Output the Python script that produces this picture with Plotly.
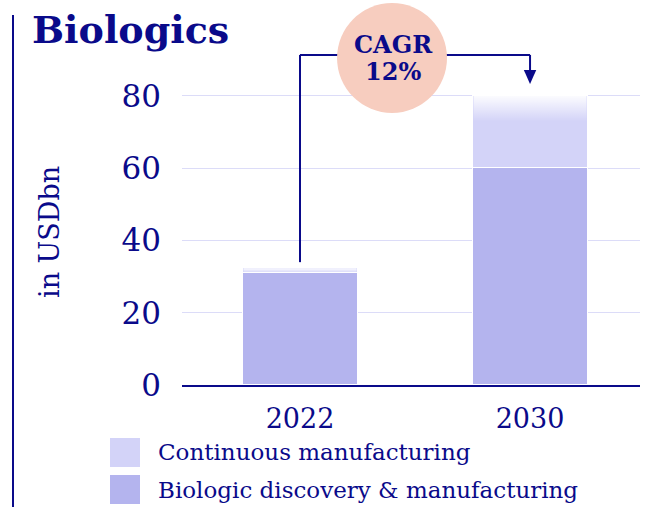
import plotly.graph_objects as go

# ---- data ----
years = ["2022", "2030"]
discovery = [31.0, 60.0]          # Biologic discovery & manufacturing (USDbn)
continuous = [1.3, 20.0]          # Continuous manufacturing (USDbn)
y_ticks = [0, 20, 40, 60, 80]
cagr_lines = ["CAGR", "12%"]
series_names = ["Continuous manufacturing", "Biologic discovery & manufacturing"]

NAVY = "#0a0a8a"
C_DISC = "#b4b4ee"
C_CONT = "#d3d3f8"
GRID = "#dcdcf8"
SALMON = "#f7cdbf"
FONT = "DejaVu Serif"

W, H = 656, 507
L, R, T, B = 182, 16, 2, 122
PW, PH = W - L - R, H - T - B

def px(x):  # pixel x -> paper
    return (x - L) / PW

def py(y):  # pixel y -> paper
    return (H - B - y) / PH

xs = list(range(len(years)))
totals = [d + c for d, c in zip(discovery, continuous)]
bar_w = 0.5

fig = go.Figure()
fig.add_trace(go.Bar(x=xs, y=discovery, width=bar_w, marker=dict(color=C_DISC, line=dict(color="white", width=1)),
                     name=series_names[1], showlegend=False, hoverinfo="skip"))
fig.add_trace(go.Bar(x=xs, y=continuous, width=bar_w, marker=dict(color=C_CONT, line=dict(color="white", width=1)),
                     name=series_names[0], showlegend=False, hoverinfo="skip"))

# fade at the top of the continuous segments
fade = 7.0
for i, (d, c) in enumerate(zip(discovery, continuous)):
    h = min(fade, c)
    top = d + c
    x0, x1 = i - bar_w / 2 + 0.004, i + bar_w / 2 - 0.004
    fig.add_trace(go.Scatter(
        x=[x0, x1, x1, x0, x0], y=[top - h, top - h, top, top, top - h],
        mode="lines", line=dict(width=0), fill="toself",
        fillgradient=dict(type="vertical",
                          colorscale=[[0, "rgba(255,255,255,0)"], [1, "rgba(255,255,255,0.92)"]]),
        showlegend=False, hoverinfo="skip"))

conn_y = 91.35
cx, cy = 0.40, 90.5
shapes = [
    dict(type="line", xref="x", yref="y", x0=0, x1=0, y0=totals[0] + 1.7, y1=conn_y, line=dict(color=NAVY, width=2)),
    dict(type="line", xref="x", yref="y", x0=0, x1=1, y0=conn_y, y1=conn_y, line=dict(color=NAVY, width=2)),
    dict(type="line", xref="x", yref="y", x0=1, x1=1, y0=conn_y, y1=totals[1] + 6, line=dict(color=NAVY, width=2)),
    dict(type="path", xref="x", yref="y",
         path=f"M {1-0.027},{totals[1]+7.2} L {1+0.027},{totals[1]+7.2} L 1,{totals[1]+3.3} Z",
         fillcolor=NAVY, line=dict(width=0)),
    dict(type="circle", xref="x", yref="y", x0=cx - 0.239, x1=cx + 0.239, y0=cy - 15.2, y1=cy + 15.2,
         fillcolor=SALMON, line=dict(width=0)),
    # left vertical rule
    dict(type="line", xref="paper", yref="paper", x0=px(13), x1=px(13), y0=py(15), y1=py(507),
         line=dict(color=NAVY, width=2)),
    # legend swatches
    dict(type="rect", xref="paper", yref="paper", x0=px(110), x1=px(140), y0=py(438), y1=py(467),
         fillcolor=C_CONT, line=dict(width=0)),
    dict(type="rect", xref="paper", yref="paper", x0=px(110), x1=px(140), y0=py(475), y1=py(504),
         fillcolor=C_DISC, line=dict(width=0)),
]

annotations = [
    dict(text="<b>Biologics</b>", xref="paper", yref="paper", x=px(30), y=py(29), xanchor="left", yanchor="middle",
         showarrow=False, font=dict(family=FONT, size=38, color=NAVY)),
    dict(text="in USDbn", xref="paper", yref="paper", x=px(49), y=py(232), textangle=-90, xanchor="center",
         yanchor="middle", showarrow=False, font=dict(family=FONT, size=27, color=NAVY)),
    dict(text=f"<b>{cagr_lines[0]}</b>", xref="paper", yref="paper", x=px(393), y=py(44), showarrow=False,
         xanchor="center", yanchor="middle", font=dict(family=FONT, size=24, color=NAVY)),
    dict(text=f"<b>{cagr_lines[1]}</b>", xref="paper", yref="paper", x=px(393), y=py(71), showarrow=False,
         xanchor="center", yanchor="middle", font=dict(family=FONT, size=24, color=NAVY)),
    dict(text=series_names[0], xref="paper", yref="paper", x=px(156), y=py(452), xanchor="left", yanchor="middle",
         showarrow=False, font=dict(family=FONT, size=23, color=NAVY)),
    dict(text=series_names[1], xref="paper", yref="paper", x=px(156), y=py(490), xanchor="left", yanchor="middle",
         showarrow=False, font=dict(family=FONT, size=23, color=NAVY)),
]

fig.update_layout(
    width=W, height=H, margin=dict(l=L, r=R, t=T, b=B),
    paper_bgcolor="white", plot_bgcolor="white",
    barmode="stack", bargap=0,
    shapes=shapes, annotations=annotations,
    xaxis=dict(range=[-0.513, 1.478], tickvals=xs, ticktext=years, showgrid=False, zeroline=False,
               showline=True, linecolor=NAVY, linewidth=2, ticks="", ticklabelstandoff=9,
               tickfont=dict(family=FONT, size=27, color=NAVY), fixedrange=True),
    yaxis=dict(range=[0, 106], tickvals=y_ticks, showgrid=True, gridcolor=GRID, gridwidth=1, zeroline=False,
               showline=False, ticks="", ticklabelstandoff=20,
               tickfont=dict(family=FONT, size=31, color=NAVY), fixedrange=True),
    showlegend=False,
)

fig.write_html("out.html", config={"displayModeBar": False},
               post_script="document.body.style.margin='0';document.body.style.overflow='hidden';")
